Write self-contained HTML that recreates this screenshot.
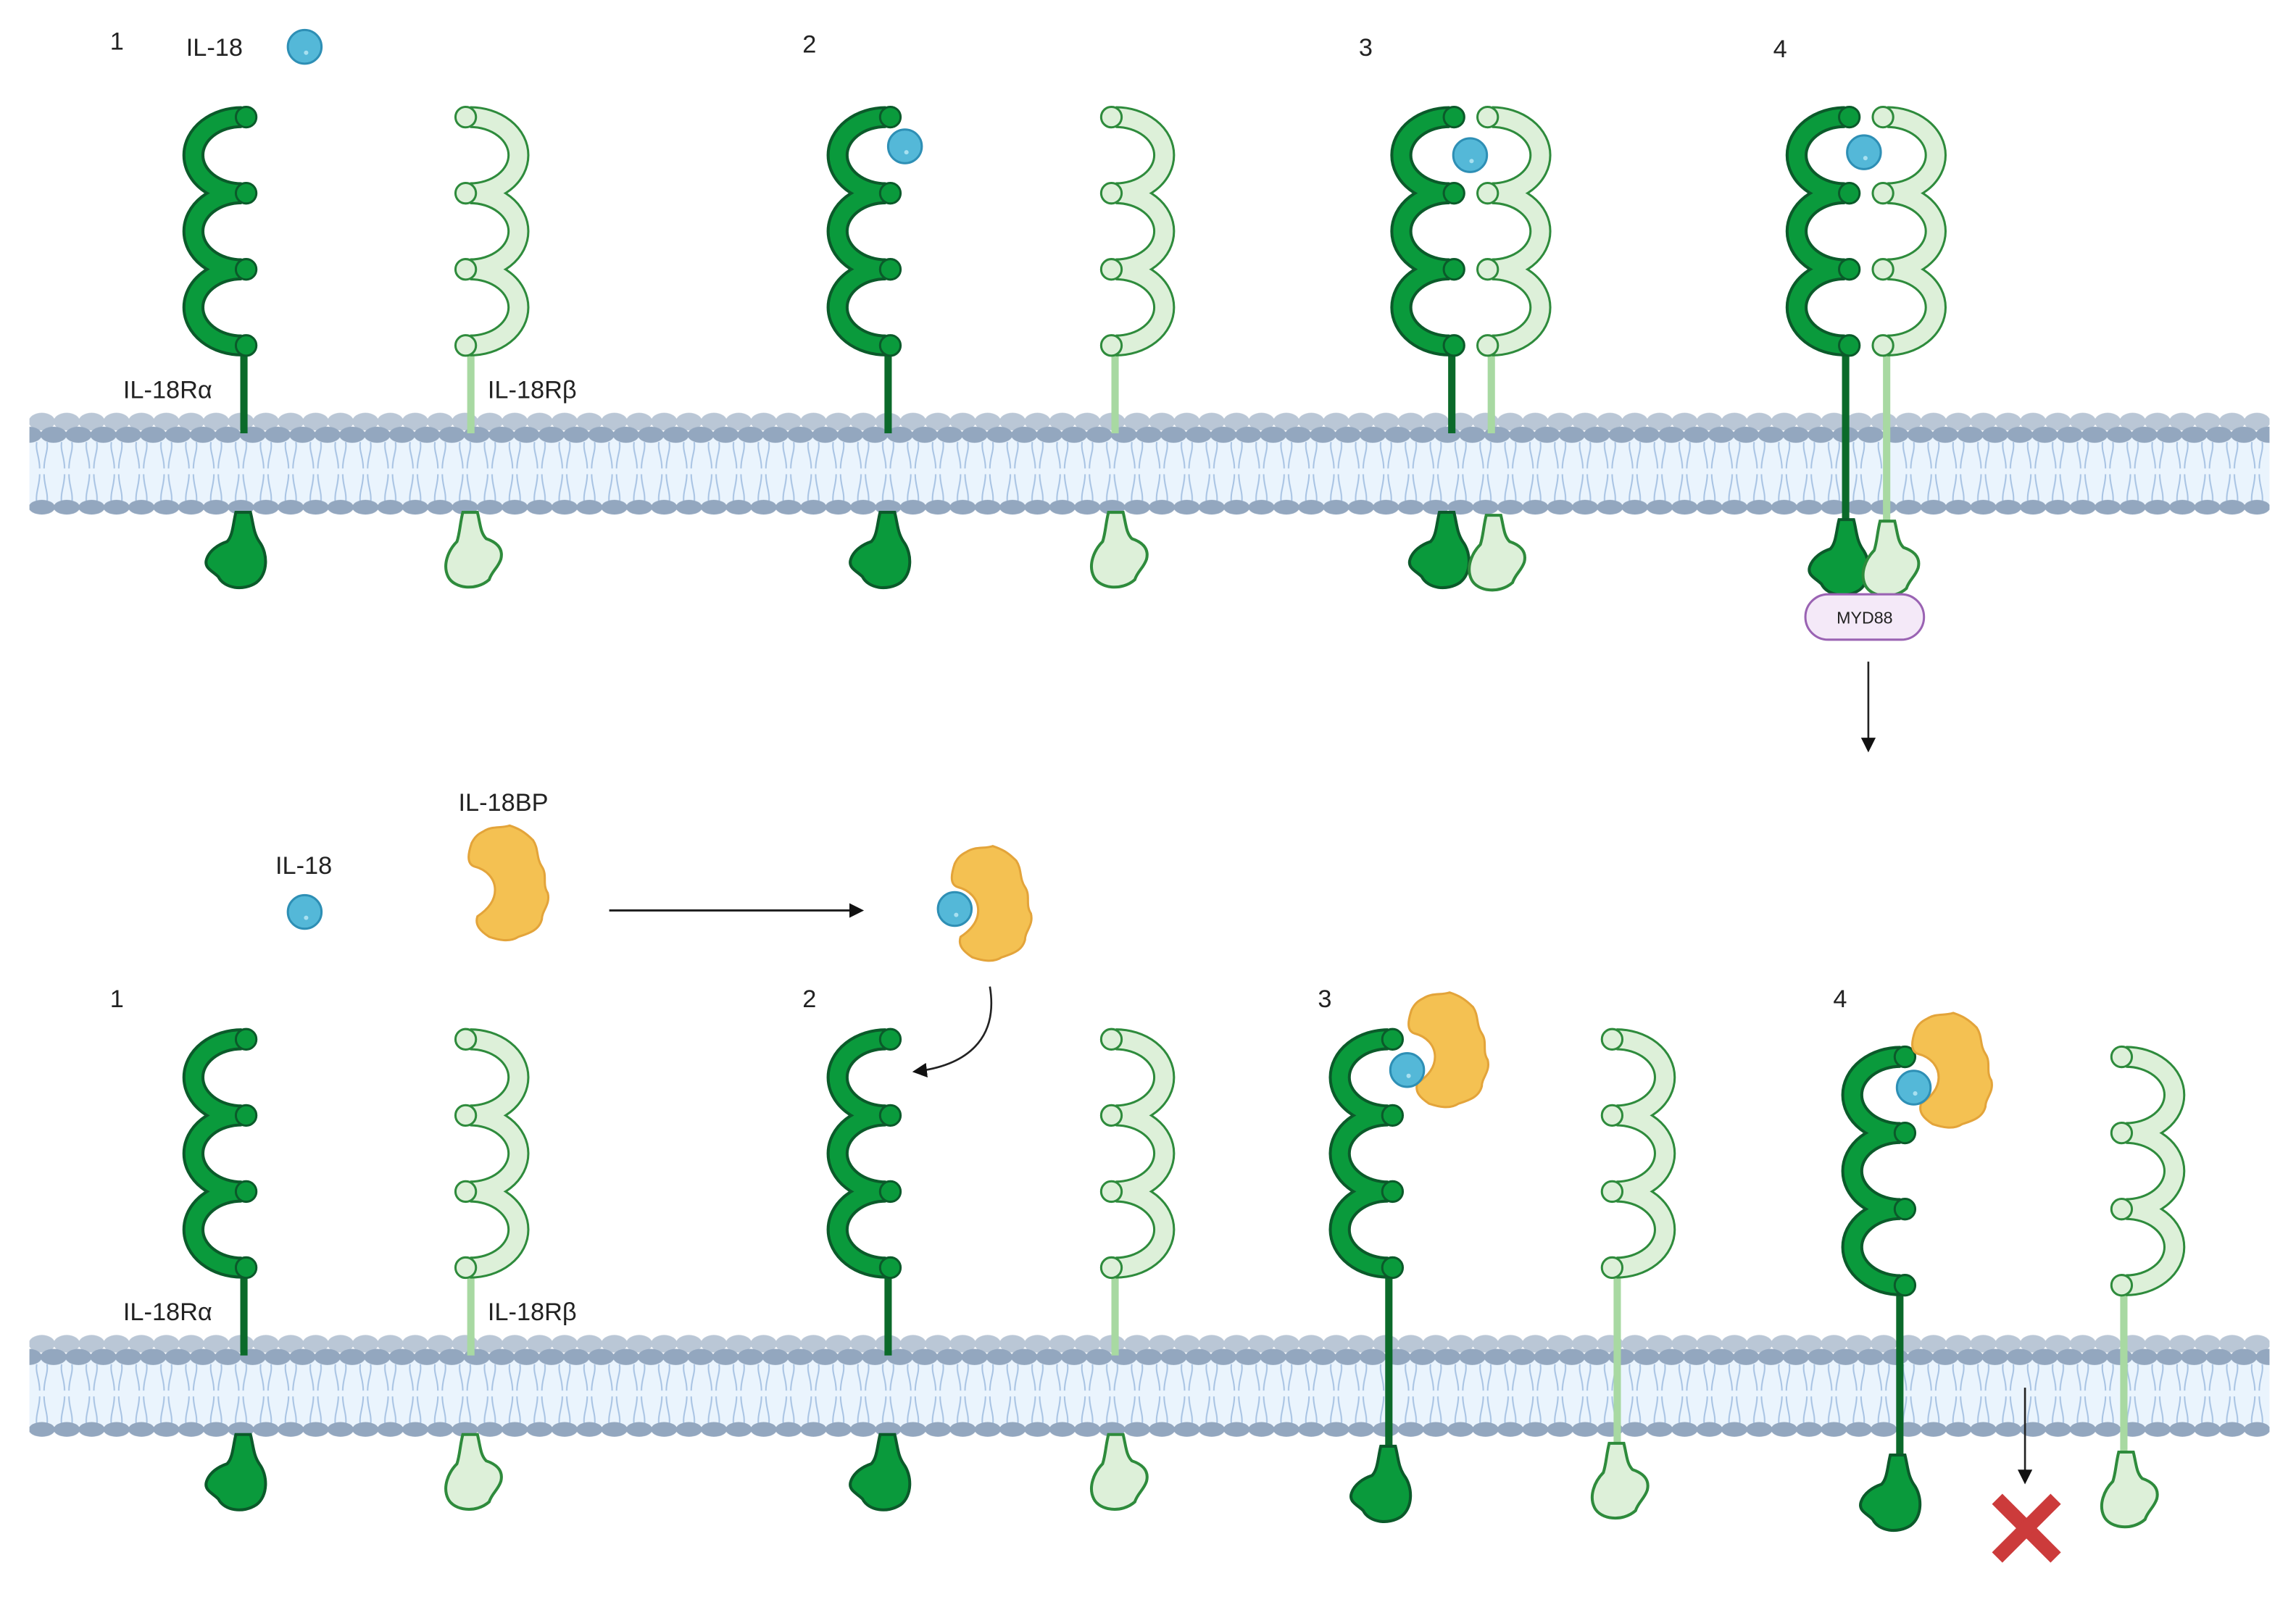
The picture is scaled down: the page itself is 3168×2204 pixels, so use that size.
<!DOCTYPE html>
<html><head><meta charset="utf-8"><style>
html,body{margin:0;padding:0;background:#fff;}
svg{display:block;}
text{font-family:"Liberation Sans",sans-serif;fill:#222;}
</style></head><body>
<svg width="3168" height="2204" viewBox="0 0 1568 1091" xmlns="http://www.w3.org/2000/svg">
<defs>
  <pattern id="headsA" x="20" y="281" width="17" height="14" patternUnits="userSpaceOnUse">
    <ellipse cx="8.5" cy="7" rx="9" ry="6" fill="#bac7d6"/>
  </pattern>
  <pattern id="headsB" x="28" y="290" width="17" height="14" patternUnits="userSpaceOnUse">
    <ellipse cx="8.5" cy="7" rx="9" ry="5.5" fill="#93a7bf"/>
  </pattern>
  <pattern id="headsC" x="20" y="340" width="17" height="13" patternUnits="userSpaceOnUse">
    <ellipse cx="8.5" cy="6.5" rx="9" ry="5" fill="#93a7bf"/>
  </pattern>
  <pattern id="tails" x="20" y="300" width="17" height="44" patternUnits="userSpaceOnUse">
    <path d="M5,2 C4,8 7,12 7,20 M12,2 C13,8 10,12 10,20 M7,24 C7,32 4,36 5,44 M10,24 C10,32 13,36 12,44" stroke="#a8c3e3" stroke-width="1" fill="none"/>
  </pattern>
  <g id="alphaTop">
    <path d="M0,0 A33,26 0 0 0 0,52 A33,26 0 0 0 0,104 A33,26 0 0 0 0,156" fill="none" stroke="#0b5a2a" stroke-width="15"/>
    <path d="M0,0 A33,26 0 0 0 0,52 A33,26 0 0 0 0,104 A33,26 0 0 0 0,156" fill="none" stroke="#0a9a3c" stroke-width="11"/>
    <g fill="#0a9a3c" stroke="#0b5a2a" stroke-width="1.5">
      <circle cx="3" cy="0" r="7"/><circle cx="3" cy="52" r="7"/><circle cx="3" cy="104" r="7"/><circle cx="3" cy="156" r="7"/>
    </g>
  </g>
  <g id="betaTop">
    <path d="M0,0 A33,26 0 0 1 0,52 A33,26 0 0 1 0,104 A33,26 0 0 1 0,156" fill="none" stroke="#2e8b3c" stroke-width="15"/>
    <path d="M0,0 A33,26 0 0 1 0,52 A33,26 0 0 1 0,104 A33,26 0 0 1 0,156" fill="none" stroke="#ddf0d9" stroke-width="12"/>
    <g fill="#ddf0d9" stroke="#2e8b3c" stroke-width="1.5">
      <circle cx="-3" cy="0" r="7"/><circle cx="-3" cy="52" r="7"/><circle cx="-3" cy="104" r="7"/><circle cx="-3" cy="156" r="7"/>
    </g>
  </g>
  <path id="blobA" d="M-5,0 L5,0 C7,8 7,14 11,20 C17,28 17,42 9,48 C0,54 -13,52 -17,44 C-21,40 -27,38 -25,32 C-23,26 -17,22 -11,20 C-7,16 -7,8 -5,0Z" fill="#0a9a3c" stroke="#0b5a2a" stroke-width="2"/>
  <path id="blobB" d="M-5,0 L5,0 C7,8 7,14 11,18 C17,20 23,24 21,32 C19,38 15,40 13,46 C4,54 -11,52 -15,44 C-19,36 -15,26 -9,20 C-7,14 -7,8 -5,0Z" fill="#ddf0d9" stroke="#2e8b3c" stroke-width="2"/>
  <g id="ball">
    <circle r="11.5" fill="#54b8d8" stroke="#2e8fb5" stroke-width="1.5"/>
    <circle cx="1" cy="4" r="1.5" fill="#a8e0f0"/>
  </g>
  <path id="bp" d="M-16,-36 C-10,-40 -4,-38 2,-40 C8,-38 12,-36 18,-30 C22,-24 20,-18 24,-12 C28,-6 24,0 28,6 C30,14 24,18 24,24 C22,32 14,34 8,36 C2,40 -6,38 -12,36 C-18,32 -22,28 -20,22 C-14,18 -8,12 -8,4 C-8,-4 -14,-10 -22,-12 C-28,-14 -26,-22 -24,-28 C-22,-32 -20,-34 -16,-36Z" fill="#f4c152" stroke="#e3a43a" stroke-width="1.5"/>
  <marker id="ah" markerWidth="10" markerHeight="10" refX="8" refY="5" orient="auto" markerUnits="userSpaceOnUse">
    <path d="M0,0 L10,5 L0,10Z" fill="#111"/>
  </marker>
  <g id="membrane">
    <rect x="20" y="296" width="1530" height="48" fill="#eaf4fd"/>
    <rect x="20" y="300" width="1530" height="44" fill="url(#tails)"/>
    <rect x="20" y="281" width="1530" height="14" fill="url(#headsA)"/>
    <rect x="20" y="290" width="1530" height="14" fill="url(#headsB)"/>
    <rect x="20" y="340" width="1530" height="13" fill="url(#headsC)"/>
  </g>
</defs>

<use href="#membrane"/>
<use href="#membrane" y="630"/>

<!-- TOP ROW -->
<text x="75" y="34" font-size="17">1</text>
<text x="127" y="38" font-size="17">IL-18</text>
<use href="#ball" x="208" y="32"/>
<text x="84" y="272" font-size="17">IL-18Rα</text>
<text x="333" y="272" font-size="17">IL-18Rβ</text>

<rect x="164" y="232" width="5" height="64" fill="#0b6a2a"/>
<use href="#alphaTop" x="165" y="80"/>
<use href="#blobA" x="166" y="350"/>
<rect x="319" y="232" width="5" height="64" fill="#a8d9a2"/>
<use href="#betaTop" x="321" y="80"/>
<use href="#blobB" x="321" y="350"/>

<text x="548" y="36" font-size="17">2</text>
<rect x="604" y="232" width="5" height="64" fill="#0b6a2a"/>
<use href="#alphaTop" x="605" y="80"/>
<use href="#blobA" x="606" y="350"/>
<use href="#ball" x="618" y="100"/>
<rect x="759" y="232" width="5" height="64" fill="#a8d9a2"/>
<use href="#betaTop" x="762" y="80"/>
<use href="#blobB" x="762" y="350"/>

<text x="928" y="38" font-size="17">3</text>
<rect x="989" y="232" width="5" height="64" fill="#0b6a2a"/>
<use href="#alphaTop" x="990" y="80"/>
<use href="#blobA" x="988" y="350"/>
<rect x="1016" y="232" width="5" height="64" fill="#a8d9a2"/>
<use href="#betaTop" x="1019" y="80"/>
<use href="#blobB" x="1020" y="352"/>
<use href="#ball" x="1004" y="106"/>

<text x="1211" y="39" font-size="17">4</text>
<rect x="1258" y="232" width="5" height="126" fill="#0b6a2a"/>
<use href="#alphaTop" x="1260" y="80"/>
<use href="#blobA" x="1261" y="355"/>
<rect x="1286" y="232" width="5" height="126" fill="#a8d9a2"/>
<use href="#betaTop" x="1289" y="80"/>
<use href="#blobB" x="1289" y="356"/>
<use href="#ball" x="1273" y="104"/>
<rect x="1233" y="406" width="81" height="31" rx="15.5" fill="#f4e9f8" stroke="#9a63b3" stroke-width="1.5"/>
<text x="1273.5" y="426" font-size="11.5" text-anchor="middle">MYD88</text>
<line x1="1276" y1="452" x2="1276" y2="512" stroke="#222" stroke-width="1.3" marker-end="url(#ah)"/>

<!-- BOTTOM -->
<text x="313" y="554" font-size="17">IL-18BP</text>
<text x="188" y="597" font-size="17">IL-18</text>
<use href="#ball" x="208" y="623"/>
<use href="#bp" x="346" y="604"/>
<line x1="416" y1="622" x2="588" y2="622" stroke="#222" stroke-width="1.5" marker-end="url(#ah)"/>
<use href="#bp" x="676" y="618"/>
<use href="#ball" x="652" y="621"/>
<path d="M676,674 C682,710 660,728 625,732" fill="none" stroke="#222" stroke-width="1.3" marker-end="url(#ah)"/>

<text x="75" y="688" font-size="17">1</text>
<text x="548" y="688" font-size="17">2</text>
<text x="900" y="688" font-size="17">3</text>
<text x="1252" y="688" font-size="17">4</text>
<text x="84" y="902" font-size="17">IL-18Rα</text>
<text x="333" y="902" font-size="17">IL-18Rβ</text>

<rect x="164" y="862" width="5" height="64" fill="#0b6a2a"/>
<use href="#alphaTop" x="165" y="710"/>
<use href="#blobA" x="166" y="980"/>
<rect x="319" y="862" width="5" height="64" fill="#a8d9a2"/>
<use href="#betaTop" x="321" y="710"/>
<use href="#blobB" x="321" y="980"/>

<rect x="604" y="862" width="5" height="64" fill="#0b6a2a"/>
<use href="#alphaTop" x="605" y="710"/>
<use href="#blobA" x="606" y="980"/>
<rect x="759" y="862" width="5" height="64" fill="#a8d9a2"/>
<use href="#betaTop" x="762" y="710"/>
<use href="#blobB" x="762" y="980"/>

<rect x="946" y="862" width="5" height="128" fill="#0b6a2a"/>
<use href="#alphaTop" x="948" y="710"/>
<use href="#blobA" x="948" y="988"/>
<use href="#bp" x="988" y="718"/>
<use href="#ball" x="961" y="731"/>
<rect x="1102" y="862" width="5" height="126" fill="#a8d9a2"/>
<use href="#betaTop" x="1104" y="710"/>
<use href="#blobB" x="1104" y="986"/>

<rect x="1295" y="874" width="5" height="122" fill="#0b6a2a"/>
<use href="#alphaTop" x="1298" y="722"/>
<use href="#blobA" x="1296" y="994"/>
<use href="#bp" x="1332" y="732"/>
<use href="#ball" x="1307" y="743"/>
<rect x="1448" y="874" width="5" height="120" fill="#a8d9a2"/>
<use href="#betaTop" x="1452" y="722"/>
<use href="#blobB" x="1452" y="992"/>
<line x1="1383" y1="948" x2="1383" y2="1012" stroke="#222" stroke-width="1.3" marker-end="url(#ah)"/>
<g stroke="#cc3b3b" stroke-width="10">
  <line x1="1364" y1="1024" x2="1404" y2="1064"/>
  <line x1="1404" y1="1024" x2="1364" y2="1064"/>
</g>
</svg>
</body></html>
